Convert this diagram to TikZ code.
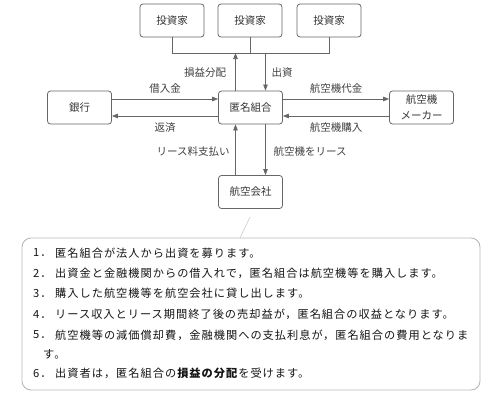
\documentclass[tikz,border=0pt]{standalone}
\usepackage{fontspec}
\setmainfont{Noto Sans CJK JP}
\newfontfamily\boxfont[LetterSpace=9]{Noto Sans CJK JP}
\usetikzlibrary{arrows.meta}
\begin{document}
\begin{tikzpicture}[x=1pt,y=-1pt,
  ent/.style={draw=black!60, line width=0.8pt, rounded corners=3pt, minimum width=64pt, minimum height=33pt, font=\fontsize{10.5}{16}\selectfont, text=black!80, inner sep=0, align=center},
  lbl/.style={font=\fontsize{10.5}{12}\selectfont, text=black!75, inner sep=0},
  arr/.style={draw=black!60, line width=0.7pt, -{Triangle[length=6pt,width=4.5pt]}},
  ln/.style={draw=black!60, line width=0.7pt},
  btxt/.style={anchor=west, font=\boxfont\fontsize{11.2}{12}\selectfont, inner sep=0, text=black!92},
  ]
\useasboundingbox (0,0) rectangle (500,415);
% entities
\node[ent] (inv1) at (172,20.5) {投資家};
\node[ent] (inv2) at (250,20.5) {投資家};
\node[ent] (inv3) at (329,20.5) {投資家};
\node[ent] (tk) at (250.5,107.5) {匿名組合};
\node[ent] (bank) at (79.5,107.5) {銀行};
\node[ent] (maker) at (421.5,107.5) {航空機\\メーカー};
\node[ent] (air) at (250.5,192) {航空会社};
% investor bus
\coordinate (bus) at (250,53);
\draw[ln] (inv1.south) |- (inv3.south |- bus) -- (inv3.south);
\draw[ln] (inv2.south) -- (inv2.south |- bus);
\draw[arr] ([xshift=-15pt]tk.north) -- ([xshift=-15pt]tk.north |- bus);
\draw[arr] ([xshift=15pt]tk.north |- bus) -- ([xshift=15pt]tk.north);
% bank
\draw[arr] ([yshift=8.5pt]bank.east) -- ([yshift=8.5pt]tk.west);
\draw[arr] ([yshift=-8.5pt]tk.west) -- ([yshift=-8.5pt]bank.east);
% maker
\draw[arr] ([yshift=8.5pt]tk.east) -- ([yshift=8.5pt]maker.west);
\draw[arr] ([yshift=-8.5pt]maker.west) -- ([yshift=-8.5pt]tk.east);
% airline
\draw[arr] ([xshift=-15pt]air.north) -- ([xshift=-15pt]tk.south);
\draw[arr] ([xshift=15pt]tk.south) -- ([xshift=15pt]air.north);
% labels
\node[lbl] (l1) at (205,73) {損益分配};
\node[lbl] (l2) at (282,73) {出資};
\node[lbl] (l3) at (165,89) {借入金};
\node[lbl] (l4) at (165,128) {返済};
\node[lbl] (l5) at (336,89) {航空機代金};
\node[lbl] (l6) at (336,128) {航空機購入};
\node[lbl] (l7) at (193,152) {リース料支払い};
\node[lbl] (l8) at (310,152) {航空機をリース};
% text box
\draw[draw=black!28, line width=0.9pt, rounded corners=9pt] (22,238) rectangle (480,390);
\draw[draw=black!18, line width=0.7pt] (240,238) -- (250,217);
\node[btxt] (n1) at (33,253) {1．};
\node[btxt] (t1) at (55,253) {匿名組合が法人から出資を募ります。};
\node[btxt] (n2) at (33,273) {2．};
\node[btxt] (t2) at (55,273) {出資金と金融機関からの借入れで，匿名組合は航空機等を購入します。};
\node[btxt] (n3) at (33,293.5) {3．};
\node[btxt] (t3) at (55,293.5) {購入した航空機等を航空会社に貸し出します。};
\node[btxt] (n4) at (33,314.5) {4．};
\node[btxt] (t4) at (55,314.5) {リース収入とリース期間終了後の売却益が，匿名組合の収益となります。};
\node[btxt] (n5) at (33,335) {5．};
\node[btxt] (t5) at (55,335) {航空機等の減価償却費，金融機関への支払利息が，匿名組合の費用となりま};
\node[btxt] (t5b) at (43,354.5) {す。};
\node[btxt] (n6) at (33,373.5) {6．};
\node[btxt] (t6) at (55,373.5) {出資者は，匿名組合の\textbf{損益の分配}を受けます。};
\end{tikzpicture}
\end{document}
